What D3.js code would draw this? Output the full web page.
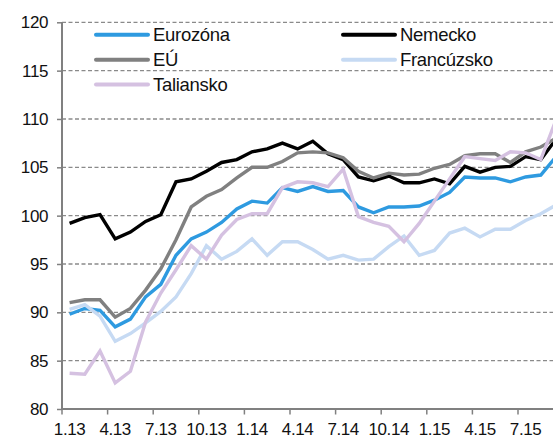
<!DOCTYPE html>
<html>
<head>
<meta charset="utf-8">
<script src="https://cdn.jsdelivr.net/npm/d3@7/dist/d3.min.js"></script>
<style>
html, body { margin: 0; padding: 0; background: #fff; overflow: hidden; }
svg { display: block; font-family: "Liberation Sans", Arial, Helvetica, sans-serif; }
</style>
</head>
<body>
<svg id="chart" width="553" height="439"></svg>
<script>
const categories = ["1.13","2.13","3.13","4.13","5.13","6.13","7.13","8.13","9.13","10.13","11.13","12.13",
  "1.14","2.14","3.14","4.14","5.14","6.14","7.14","8.14","9.14","10.14","11.14","12.14",
  "1.15","2.15","3.15","4.15","5.15","6.15","7.15","8.15","9.15"];
const tickLabels = ["1.13","4.13","7.13","10.13","1.14","4.14","7.14","10.14","1.15","4.15","7.15"];
const yTicks = [80, 85, 90, 95, 100, 105, 110, 115, 120];

const eurozona = [89.8, 90.4, 90.2, 88.5, 89.3, 91.6, 92.9, 95.9, 97.6, 98.3, 99.3, 100.7, 101.5, 101.3, 102.9, 102.5, 103.0, 102.5, 102.6, 100.9, 100.3, 100.9, 100.9, 101.0, 101.6, 102.4, 104.0, 103.9, 103.9, 103.5, 104.0, 104.2, 106.1];
const nemecko = [99.2, 99.8, 100.1, 97.6, 98.3, 99.4, 100.1, 103.5, 103.8, 104.6, 105.5, 105.8, 106.6, 106.9, 107.5, 106.9, 107.7, 106.4, 105.8, 104.0, 103.6, 104.1, 103.4, 103.4, 103.8, 103.3, 105.1, 104.5, 105.0, 105.1, 106.1, 105.8, 107.9];
const eu = [91.0, 91.3, 91.3, 89.5, 90.4, 92.3, 94.5, 97.5, 100.9, 102.0, 102.7, 103.9, 105.0, 105.0, 105.6, 106.5, 106.6, 106.5, 106.0, 104.6, 103.9, 104.4, 104.2, 104.3, 104.9, 105.3, 106.2, 106.4, 106.4, 105.5, 106.6, 107.1, 108.0];
const francuzsko = [90.3, 90.8, 89.6, 87.0, 87.8, 88.9, 90.1, 91.6, 94.0, 96.9, 95.5, 96.3, 97.6, 95.9, 97.3, 97.3, 96.5, 95.5, 95.9, 95.4, 95.5, 96.8, 97.9, 95.9, 96.4, 98.2, 98.7, 97.8, 98.6, 98.6, 99.5, 100.2, 101.1];
const taliansko = [83.7, 83.6, 86.0, 82.7, 83.9, 89.0, 92.0, 94.4, 96.9, 95.5, 98.0, 99.6, 100.2, 100.2, 102.9, 103.5, 103.4, 103.0, 104.8, 99.9, 99.3, 98.9, 97.3, 99.2, 101.5, 103.8, 106.1, 105.9, 105.7, 106.6, 106.5, 105.8, 109.9];

const seriesNames = ["Eurozóna", "Nemecko", "EÚ", "Francúzsko", "Taliansko"];
const seriesData = [eurozona, nemecko, eu, francuzsko, taliansko];
const seriesColors = ["#2e9ae0", "#000000", "#808080", "#c6daf3", "#d5c1e1"];

const svg = d3.select("#chart");
const mLeft = 62, mTop = 22.3, mBottom = 409;
const step = 15.2;
const W = 553;

const x = d3.scaleBand().domain(categories).range([mLeft, mLeft + step * categories.length]).padding(0);
const y = d3.scaleLinear().domain([80, 120]).range([mBottom, mTop]);

// gridlines
svg.append("g").selectAll("line").data(yTicks.filter(v => v > 80)).join("line")
  .attr("x1", mLeft).attr("x2", W)
  .attr("y1", d => y(d)).attr("y2", d => y(d))
  .attr("stroke", "#8a8a8a").attr("stroke-width", 1.3).attr("stroke-dasharray", "4,2.5");

// y axis
const yAxis = d3.axisLeft(y).tickValues(yTicks).tickSize(5).tickPadding(9).tickFormat(d3.format("d"));
const gy = svg.append("g").attr("transform", `translate(${mLeft},0)`).call(yAxis);
gy.select(".domain").attr("stroke", "#808080").attr("stroke-width", 2).attr("d", `M0,${mTop}V${mBottom}`);
gy.selectAll(".tick line").attr("stroke", "#808080").attr("stroke-width", 1.5);
gy.selectAll(".tick text").attr("fill", "#111").attr("font-size", 17).style("letter-spacing", "-0.4px")
  .attr("font-family", "'Liberation Sans', Arial, sans-serif");

// x axis
svg.append("line").attr("x1", mLeft).attr("x2", W).attr("y1", mBottom).attr("y2", mBottom)
  .attr("stroke", "#808080").attr("stroke-width", 2);
const gx = svg.append("g");
gx.selectAll("line").data(tickLabels).join("line")
  .attr("x1", d => x(d)).attr("x2", d => x(d))
  .attr("y1", mBottom).attr("y2", mBottom + 5.5)
  .attr("stroke", "#808080").attr("stroke-width", 1.5);
gx.selectAll("text").data(tickLabels).join("text")
  .attr("x", d => x(d) + x.bandwidth() / 2).attr("y", 435)
  .attr("text-anchor", "middle").attr("font-size", 17).attr("fill", "#111")
  .style("letter-spacing", "-0.4px")
  .text(d => d);

// lines
const line = d3.line().x((d, i) => x(categories[i]) + x.bandwidth() / 2).y(d => y(d));
svg.append("defs").append("clipPath").attr("id", "clip")
  .append("rect").attr("x", 0).attr("y", 0).attr("width", W).attr("height", 439);
const gl = svg.append("g").attr("clip-path", "url(#clip)");
seriesData.forEach((s, k) => {
  gl.append("path").datum(s).attr("d", line).attr("fill", "none")
    .attr("stroke", seriesColors[k]).attr("stroke-width", 3.4)
    .attr("stroke-linejoin", "miter").attr("stroke-linecap", "butt");
});

// legend
const legendPos = [
  {x: 96, y: 34.7}, {x: 343, y: 34.7},
  {x: 96, y: 59.8}, {x: 343, y: 59.8},
  {x: 96, y: 84.5}
];
const gLeg = svg.append("g");
seriesNames.forEach((name, k) => {
  const p = legendPos[k];
  gLeg.append("line").attr("x1", p.x).attr("x2", p.x + 52).attr("y1", p.y).attr("y2", p.y)
    .attr("stroke", seriesColors[k]).attr("stroke-width", 4).attr("stroke-linecap", "round");
  gLeg.append("text").attr("x", p.x + 57).attr("y", p.y).attr("dy", "0.36em")
    .attr("font-size", 18.5).attr("fill", "#111").style("letter-spacing", "-0.3px").text(name);
});
</script>
</body>
</html>
